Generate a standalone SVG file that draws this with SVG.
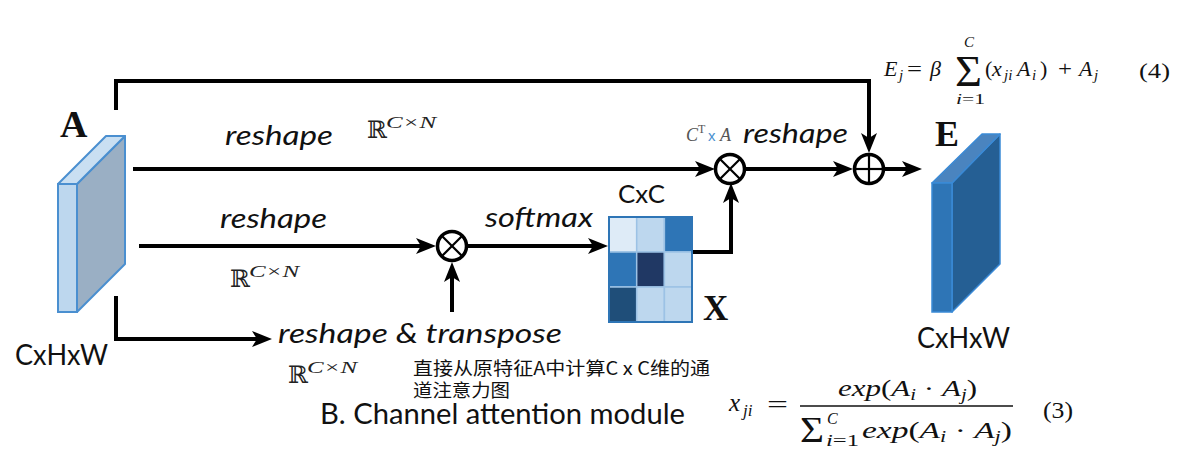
<svg xmlns="http://www.w3.org/2000/svg" width="1197" height="460" viewBox="0 0 1197 460">
<style>
.sans{font-family:Lato,"Open Sans","Liberation Sans",sans-serif;fill:#111}
.lbl{font-size:27px;font-style:italic}
.m{font-family:"Liberation Serif","DejaVu Serif",serif;fill:#111}
.it{font-style:italic}
.bb{font-family:"Liberation Serif","DejaVu Serif",serif;font-weight:bold;fill:#111}
.rr{font-family:"DejaVu Serif","Liberation Serif",serif;font-size:24px;fill:#222}
.rs{font-family:"Liberation Serif","DejaVu Serif",serif;font-size:16px;font-style:italic;fill:#222}
.cjk{font-family:"Noto Sans CJK SC","Noto Sans",sans-serif;fill:#111}
.conn{fill:none;stroke:#000;stroke-width:4;marker-end:url(#ah)}
.op{fill:#fff;stroke:#000;stroke-width:3.5}
.opl{stroke:#000;stroke-width:2.2}
.cell{stroke:#9cc2e5;stroke-width:1.5}
</style>
<defs>
<marker id="ah" markerUnits="userSpaceOnUse" markerWidth="20" markerHeight="16" viewBox="0 0 20 16" refX="5" refY="8" orient="auto">
<path d="M0,0 L20,8 L0,16 L5,8 z" fill="#000"/>
</marker>
</defs>
<rect width="1197" height="460" fill="#fff"/>

<g id="connectors">
<path class="conn" d="M116,110 V81 H869 V138"/>
<path class="conn" d="M133,169 H700"/>
<path class="conn" d="M745,169 H838"/>
<path class="conn" d="M885,169 H907"/>
<path class="conn" d="M139,246 H421"/>
<path class="conn" d="M468,246 H593"/>
<path class="conn" d="M452,312 V277"/>
<path class="conn" d="M116,296 V339 H257"/>
<path class="conn" d="M692,252 H731 V198"/>
</g>

<g id="node-A">
<polygon points="77,184 125,136 125,264 77,312" fill="#9aafc4" stroke="#4a8fd0" stroke-width="2" stroke-linejoin="round"/>
<polygon points="58,184 106,136 125,136 77,184" fill="#c9dff2" stroke="#4a8fd0" stroke-width="2" stroke-linejoin="round"/>
<rect x="58" y="184" width="19" height="128" fill="#bdd7ee" stroke="#4a8fd0" stroke-width="2"/>
<text class="bb" x="60" y="137" font-size="38">A</text>
<text class="sans" x="15" y="365" font-size="28" textLength="93" lengthAdjust="spacingAndGlyphs">CxHxW</text>
</g>

<g id="node-E">
<polygon points="952,183 1000,134 1000,264 952,312" fill="#255f94" stroke="#3a8ad6" stroke-width="1.5" stroke-linejoin="round"/>
<polygon points="932,183 982,134 1000,134 952,183" fill="#4a84bf" stroke="#3a8ad6" stroke-width="1.5" stroke-linejoin="round"/>
<rect x="932" y="183" width="20" height="129" fill="#2e75b6" stroke="#3a8ad6" stroke-width="1.5"/>
<text class="bb" x="935" y="146" font-size="36">E</text>
<text class="sans" x="917" y="348" font-size="28" textLength="93" lengthAdjust="spacingAndGlyphs">CxHxW</text>
</g>

<g id="node-X">
<rect class="cell" x="609" y="217" width="27.7" height="35" fill="#deebf7"/>
<rect class="cell" x="636.7" y="217" width="27.7" height="35" fill="#bdd7ee"/>
<rect class="cell" x="664.4" y="217" width="27.6" height="35" fill="#2e75b6"/>
<rect class="cell" x="609" y="252" width="27.7" height="35" fill="#2e75b6"/>
<rect class="cell" x="636.7" y="252" width="27.7" height="35" fill="#203864"/>
<rect class="cell" x="664.4" y="252" width="27.6" height="35" fill="#bdd7ee"/>
<rect class="cell" x="609" y="287" width="27.7" height="35" fill="#1f4e79"/>
<rect class="cell" x="636.7" y="287" width="27.7" height="35" fill="#bdd7ee"/>
<rect class="cell" x="664.4" y="287" width="27.6" height="35" fill="#bdd7ee"/>
<rect x="609" y="217" width="83" height="105" fill="none" stroke="#2e75b6" stroke-width="2"/>
<text class="sans" x="618" y="203" font-size="25" textLength="47" lengthAdjust="spacingAndGlyphs">CxC</text>
<text class="bb" x="703" y="320" font-size="35">X</text>
</g>

<g id="op-mul1">
<circle class="op" cx="730" cy="169" r="14.5"/>
<line class="opl" x1="719.7" y1="158.7" x2="740.3" y2="179.3"/>
<line class="opl" x1="740.3" y1="158.7" x2="719.7" y2="179.3"/>
</g>

<g id="op-mul2">
<circle class="op" cx="452" cy="246" r="14.5"/>
<line class="opl" x1="441.7" y1="235.7" x2="462.3" y2="256.3"/>
<line class="opl" x1="462.3" y1="235.7" x2="441.7" y2="256.3"/>
</g>

<g id="op-add">
<circle class="op" cx="869" cy="169" r="14.5"/>
<line class="opl" x1="854.5" y1="169" x2="883.5" y2="169"/>
<line class="opl" x1="869" y1="154.5" x2="869" y2="183.5"/>
</g>

<g id="labels">
<text class="sans lbl" x="225" y="145" textLength="108" lengthAdjust="spacingAndGlyphs">reshape</text>
<text class="sans lbl" x="220" y="228" textLength="107" lengthAdjust="spacingAndGlyphs">reshape</text>
<text class="sans lbl" x="485" y="227" textLength="108" lengthAdjust="spacingAndGlyphs">softmax</text>
<text class="sans lbl" x="743" y="143" textLength="105" lengthAdjust="spacingAndGlyphs">reshape</text>
<text class="sans lbl" x="278" y="343" textLength="284" lengthAdjust="spacingAndGlyphs">reshape &amp; transpose</text>

<text class="rr" x="367" y="138">ℝ</text>
<text class="rs" x="386" y="128" textLength="50" lengthAdjust="spacingAndGlyphs">C×N</text>
<text class="rr" x="230" y="287">ℝ</text>
<text class="rs" x="249" y="277" textLength="50" lengthAdjust="spacingAndGlyphs">C×N</text>
<text class="rr" x="288" y="383">ℝ</text>
<text class="rs" x="307" y="373" textLength="50" lengthAdjust="spacingAndGlyphs">C×N</text>

<text x="686" y="141" font-family="'Liberation Serif',serif" font-size="18" font-style="italic" fill="#555">C</text>
<text x="698" y="133" font-family="'Liberation Serif',serif" font-size="12" fill="#555">T</text>
<text x="708" y="141" font-family="'Liberation Sans',sans-serif" font-size="15" fill="#4a90d0">x</text>
<text x="720" y="141" font-family="'Liberation Serif',serif" font-size="18" font-style="italic" fill="#555">A</text>

<text class="cjk" x="413" y="375" font-size="18" textLength="297" lengthAdjust="spacingAndGlyphs">直接从原特征A中计算C x C维的通</text>
<text class="cjk" x="413" y="397" font-size="18" textLength="97" lengthAdjust="spacingAndGlyphs">道注意力图</text>

<text class="sans" x="320" y="424" font-size="28" textLength="365" lengthAdjust="spacingAndGlyphs">B. Channel attention module</text>
</g>

<g id="formula-4">
<text class="m it" x="884" y="76" font-size="22">E</text>
<text class="m it" x="899" y="80" font-size="15">j</text>
<text class="m" x="907" y="76" font-size="22" textLength="15" lengthAdjust="spacingAndGlyphs">=</text>
<text class="m it" x="930" y="76" font-size="22">β</text>
<text class="m" x="955" y="86" font-size="45" textLength="27" lengthAdjust="spacingAndGlyphs">Σ</text>
<text class="m it" x="964" y="47" font-size="15">C</text>
<text class="m" x="956" y="104" font-size="15" textLength="29" lengthAdjust="spacingAndGlyphs"><tspan font-style="italic">i</tspan>=1</text>
<text class="m" x="985" y="76" font-size="22">(</text>
<text class="m it" x="992" y="76" font-size="22">x</text>
<text class="m it" x="1004" y="80" font-size="15">ji</text>
<text class="m it" x="1017" y="76" font-size="22">A</text>
<text class="m it" x="1032" y="80" font-size="15">i</text>
<text class="m" x="1040" y="76" font-size="22">)</text>
<text class="m" x="1058" y="76" font-size="22" textLength="14" lengthAdjust="spacingAndGlyphs">+</text>
<text class="m it" x="1079" y="76" font-size="22">A</text>
<text class="m it" x="1094" y="80" font-size="15">j</text>
<text class="m" x="1139" y="78" font-size="22" textLength="31" lengthAdjust="spacingAndGlyphs">(4)</text>
</g>

<g id="formula-3">
<text class="m it" x="729" y="411" font-size="25">x</text>
<text class="m it" x="743" y="416" font-size="17">ji</text>
<text class="m" x="767" y="412" font-size="24" textLength="21" lengthAdjust="spacingAndGlyphs">=</text>
<text class="m" x="838" y="396" font-size="24" textLength="139" lengthAdjust="spacingAndGlyphs"><tspan font-style="italic">exp</tspan>(<tspan font-style="italic">A</tspan><tspan font-style="italic" font-size="16" dy="4">i</tspan><tspan dy="-4"> · </tspan><tspan font-style="italic">A</tspan><tspan font-style="italic" font-size="16" dy="4">j</tspan><tspan dy="-4">)</tspan></text>
<line x1="800" y1="406" x2="1013" y2="406" stroke="#111" stroke-width="1.4"/>
<text class="m" x="800" y="442" font-size="35" textLength="24" lengthAdjust="spacingAndGlyphs">Σ</text>
<text class="m it" x="827" y="424" font-size="16">C</text>
<text class="m" x="826" y="446" font-size="16" textLength="33" lengthAdjust="spacingAndGlyphs"><tspan font-style="italic">i</tspan>=1</text>
<text class="m" x="862" y="438" font-size="24" textLength="150" lengthAdjust="spacingAndGlyphs"><tspan font-style="italic">exp</tspan>(<tspan font-style="italic">A</tspan><tspan font-style="italic" font-size="16" dy="4">i</tspan><tspan dy="-4"> · </tspan><tspan font-style="italic">A</tspan><tspan font-style="italic" font-size="16" dy="4">j</tspan><tspan dy="-4">)</tspan></text>
<text class="m" x="1043" y="418" font-size="24" textLength="30" lengthAdjust="spacingAndGlyphs">(3)</text>
</g>
</svg>
